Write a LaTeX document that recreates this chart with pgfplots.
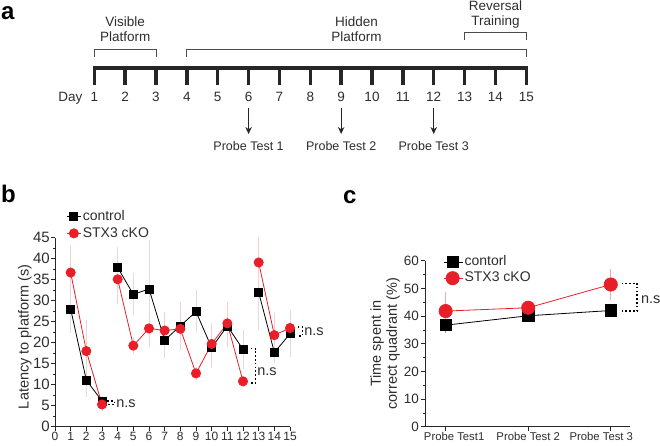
\documentclass[border=0pt]{standalone}
\usepackage{pgfplots}
\pgfplotsset{compat=1.18}
\usepackage{pgfplotstable}
\usepackage{fontspec}
\setmainfont{Liberation Sans}
\usetikzlibrary{arrows.meta}
\definecolor{myred}{RGB}{232,30,40}
\definecolor{errgray}{RGB}{222,222,222}
\definecolor{errpink}{RGB}{245,208,208}
\definecolor{txt}{RGB}{45,45,45}

\pgfplotstableread{
x y e
1 28.0 5.8
2 11.1 4.0
3 6.1 1.2
3.5 nan 0
4 37.9 5.0
5 31.5 5.0
6 32.8 11.6
7 20.6 4.3
8 24.0 5.8
9 27.4 5.1
10 18.8 4.9
11 24.0 5.0
12 18.4 4.6
12.5 nan 0
13 32.0 9.0
14 17.7 2.6
15 22.1 5.4
}\ctrlB
\pgfplotstableread{
x y e
1 36.7 6.5
2 18.0 7.4
3 5.3 1.5
3.5 nan 0
4 35.1 6.0
5 19.3 2.0
6 23.4 4.4
7 22.9 4.5
8 23.3 5.0
9 12.7 1.6
10 19.7 4.9
11 24.6 5.0
12 10.8 1.3
12.5 nan 0
13 39.1 6.1
14 21.8 5.2
15 23.5 4.3
}\koB
\pgfplotstableread{
x y e
1 36.7 3.0
2 40.1 1.0
3 42.0 1.0
}\ctrlC
\pgfplotstableread{
x y e
1 41.8 7.0
2 43.0 1.0
3 51.4 5.6
}\koC

\tikzset{ns/.style={line width=1.8pt, dash pattern=on 1.6pt off 2.2pt, black}}
\pgfplotsset{
  panel/.style={
    scale only axis, anchor=south west, clip=false,
    axis lines*=left,
    axis line style={line width=0.8pt, black!85},
    tick align=outside, tick pos=left,
    major tick length=4pt, minor tick length=2.5pt,
    every tick/.style={line width=0.7pt, black!85},
    /pgf/number format/assume math mode=true,
    unbounded coords=jump,
    legend cell align=left,
    legend image code/.code={\draw[mark repeat=2,mark phase=2,##1] plot coordinates {(0pt,0pt) (7pt,0pt) (14pt,0pt)};},
  },
}

\begin{document}
\begin{tikzpicture}
\path[use as bounding box] (0pt,0pt) rectangle (660pt,-445pt);

% ---------- panel labels ----------
\begin{scope}[x=1pt,y=-1pt]
\node[anchor=base west,inner sep=0,font=\fontsize{24}{24}\selectfont\bfseries] at (1,19) {a};
\node[anchor=base west,inner sep=0,font=\fontsize{24}{24}\selectfont\bfseries] at (1,202) {b};
\node[anchor=base west,inner sep=0,font=\fontsize{24}{24}\selectfont\bfseries] at (343,203) {c};
\end{scope}

% ---------- panel a: timeline ----------
\begin{scope}[x=30.857pt,y=-1pt,xshift=63.43pt,txt]
\draw[line width=4pt,black!85] (0.96,68) -- (15.04,68);
\foreach \d in {1,...,15}{
  \draw[line width=3.5pt,black!85] (\d,67) -- (\d,85);
  \node[anchor=base,inner sep=0,font=\fontsize{13.5}{13.5}\selectfont] at (\d,101.7) {\d};
}
\node[anchor=base east,inner sep=0,font=\fontsize{13.5}{13.5}\selectfont] at (0.62,101.7) {Day};
\foreach \d/\t in {6/1,9/2,12/3}{
  \draw[line width=0.9pt,black!85,-{Stealth[length=7pt,width=6.5pt]}] (\d,108) -- (\d,134);
  \node[anchor=base,inner sep=0,font=\fontsize{12.5}{12.5}\selectfont] at (\d,150.7) {Probe Test \t};
}
\draw[line width=0.8pt,black!70] (1,57) -- (1,49) -- (3,49) -- (3,57);
\draw[line width=0.8pt,black!70] (4,57) -- (4,49) -- (15,49) -- (15,57);
\draw[line width=0.8pt,black!70] (13,40) -- (13,32) -- (15,32) -- (15,40);
\node[anchor=base,inner sep=0,font=\fontsize{13.5}{13.5}\selectfont] at (2,26.7) {Visible};
\node[anchor=base,inner sep=0,font=\fontsize{13.5}{13.5}\selectfont] at (2,41.7) {Platform};
\node[anchor=base,inner sep=0,font=\fontsize{13.5}{13.5}\selectfont] at (9.5,26.7) {Hidden};
\node[anchor=base,inner sep=0,font=\fontsize{13.5}{13.5}\selectfont] at (9.5,41.7) {Platform};
\node[anchor=base,inner sep=0,font=\fontsize{13.5}{13.5}\selectfont] at (14,10.7) {Reversal};
\node[anchor=base,inner sep=0,font=\fontsize{13.5}{13.5}\selectfont] at (14,25) {Training};
\end{scope}

% ---------- panel b ----------
\begin{axis}[panel,
  at={(55pt,-426.7pt)}, width=235pt, height=189pt,
  xmin=0, xmax=15, ymin=0, ymax=45,
  xtick={0,...,15}, ytick={0,5,...,45}, minor y tick num=1,
  xticklabel style={font=\fontsize{12}{12}\selectfont, txt, inner sep=1pt},
  yticklabel style={font=\fontsize{15}{15}\selectfont, txt, inner sep=1pt},
  ylabel={Latency to platform (s)},
  ylabel style={at={(axis description cs:-0.128,0.475)}, anchor=center, font=\fontsize{14.5}{14.5}\selectfont, txt},
  legend style={at={(axis description cs:0.048,1.155)}, anchor=north west, draw=none, fill=none,
    font=\fontsize{14}{14}\selectfont, inner sep=0pt, row sep=0pt,
    nodes={inner sep=1.5pt, text height=10.5pt, text depth=3pt, text=txt}},
]
\addplot[black, line width=0.8pt, mark=square*, mark size=4pt, mark options={solid, fill=black},
  error bars/.cd, y dir=both, y explicit, error mark=none,
  error bar style={line width=0.6pt, errgray}]
  table[x=x, y=y, y error=e] {\ctrlB};
\addlegendentry{control}
\addplot[myred, line width=0.8pt, mark=*, mark size=4.6pt, mark options={solid, fill=myred, draw=myred},
  error bars/.cd, y dir=both, y explicit, error mark=none,
  error bar style={line width=0.6pt, errpink}]
  table[x=x, y=y, y error=e] {\koB};
\addlegendentry{STX3 cKO}
% n.s annotations
\draw[ns] (axis cs:3.35,6.1) -- (axis cs:3.8,6.1) -- (axis cs:3.8,5.3) -- (axis cs:3.35,5.3);
\node[anchor=west,inner sep=0,font=\fontsize{14.5}{14.5}\selectfont,txt] at (axis cs:3.9,5.5) {n.s};
\draw[ns] (axis cs:12.5,18.6) -- (axis cs:12.8,18.6) -- (axis cs:12.8,10.4) -- (axis cs:12.5,10.4);
\node[anchor=west,inner sep=0,font=\fontsize{14.5}{14.5}\selectfont,txt] at (axis cs:12.9,13.2) {n.s};
\draw[ns] (axis cs:15.5,23.7) -- (axis cs:15.8,23.7) -- (axis cs:15.8,21.6) -- (axis cs:15.5,21.6);
\node[anchor=west,inner sep=0,font=\fontsize{14.5}{14.5}\selectfont,txt] at (axis cs:15.9,22.6) {n.s};
\end{axis}

% ---------- panel c ----------
\begin{axis}[panel,
  at={(425pt,-426.7pt)}, width=205pt, height=166pt,
  xmin=0.75, xmax=3.233, ymin=0, ymax=60,
  xtick={1,2,3}, xticklabels={\hspace*{17pt}Probe Test1, Probe Test 2, Probe Test 3\hspace*{19pt}},
  ytick={0,10,...,60}, minor y tick num=1,
  xticklabel style={font=\fontsize{11.3}{11.3}\selectfont, txt, inner sep=1pt},
  yticklabel style={font=\fontsize{13.5}{13.5}\selectfont, txt, inner sep=2pt},
  ylabel={Time spent in\\correct quadrant (\%)},
  ylabel style={at={(axis description cs:-0.195,0.5)}, anchor=center, align=center, font=\fontsize{14.5}{16}\selectfont, txt},
  legend image code/.code={\draw[mark repeat=2,mark phase=2,#1] plot coordinates {(0pt,0pt) (9pt,0pt) (19pt,0pt)};},
  legend style={at={(axis description cs:0.088,1.042)}, anchor=north west, draw=none, fill=none,
    font=\fontsize{14}{14}\selectfont, inner sep=0pt, row sep=-0.5pt,
    nodes={inner sep=1.5pt, text height=10.5pt, text depth=3pt, text=txt}},
]
\addplot[black, line width=0.8pt, mark=square*, mark size=5.7pt, mark options={solid, fill=black},
  error bars/.cd, y dir=both, y explicit, error mark=none,
  error bar style={line width=0.6pt, black!40}]
  table[x=x, y=y, y error=e] {\ctrlC};
\addlegendentry{contorl}
\addplot[myred, line width=0.8pt, mark=*, mark size=6.6pt, mark options={solid, fill=myred, draw=myred},
  error bars/.cd, y dir=both, y explicit, error mark=none,
  error bar style={line width=0.6pt, errpink!80!red}]
  table[x=x, y=y, y error=e] {\koC};
\addlegendentry{STX3 cKO}
\draw[ns] (axis cs:3.13,51.8) -- (axis cs:3.318,51.8) -- (axis cs:3.318,41.8) -- (axis cs:3.13,41.8);
\node[anchor=west,inner sep=0,font=\fontsize{14.5}{14.5}\selectfont,txt] at (axis cs:3.365,46.0) {n.s};
\end{axis}
\end{tikzpicture}
\end{document}
